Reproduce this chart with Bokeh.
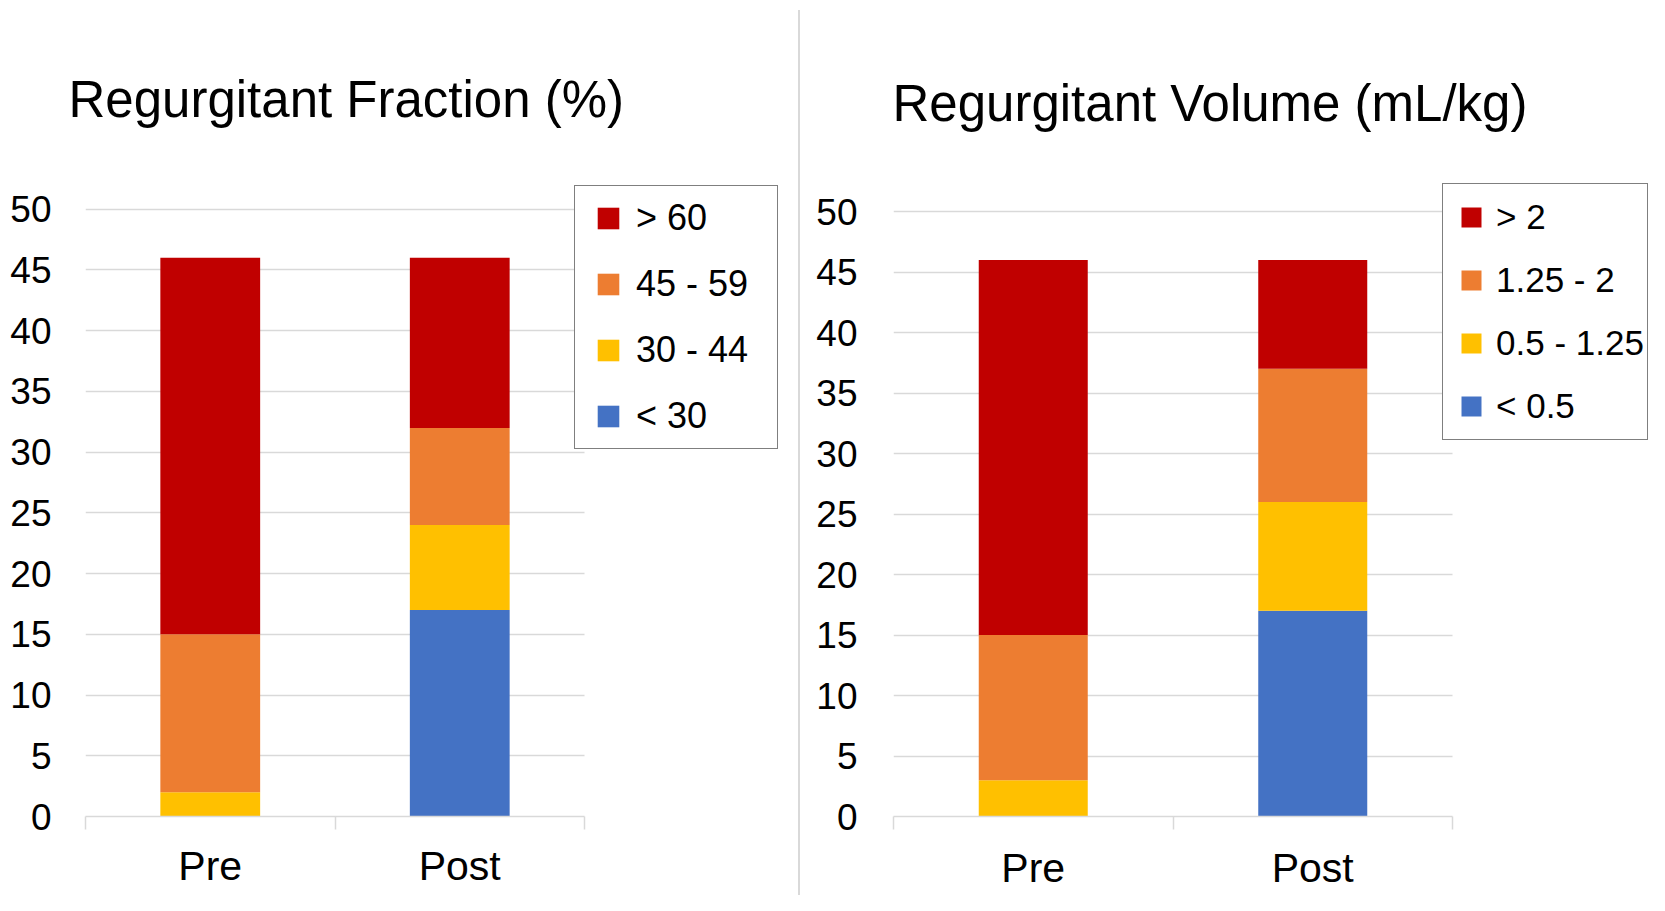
from bokeh.plotting import figure
from bokeh.models import ColumnDataSource, Range1d, FixedTicker, Legend, LegendItem, Div, Grid
from bokeh.layouts import row
from bokeh.embed import file_html
from bokeh.resources import INLINE

# ---- data ----
categories = ["Pre", "Post"]

rf_title = "Regurgitant Fraction (%)"
rf_labels = ["< 30", "30 - 44", "45 - 59", "> 60"]
rf_lt30 = [0, 17]
rf_30_44 = [2, 7]
rf_45_59 = [13, 8]
rf_gt60 = [31, 14]

rv_title = "Regurgitant Volume (mL/kg)"
rv_labels = ["< 0.5", "0.5 - 1.25", "1.25 - 2", "> 2"]
rv_lt05 = [0, 17]
rv_05_125 = [3, 9]
rv_125_2 = [12, 11]
rv_gt2 = [31, 9]

colors = ["#4472C4", "#FFC000", "#ED7D31", "#C00000"]
y_ticks = list(range(0, 51, 5))
y_max = 50

FONT = "Liberation Sans"
GRID = "#d9d9d9"
HAS_CROSS = "cross_bounds" in Grid.properties()


def make_panel(title, labels, series, lay):
    n = len(categories)
    centers = [i + 0.5 for i in range(n)]
    bounds = list(range(n + 1))
    data = {"x": centers}
    keys = []
    for i, s in enumerate(series):
        k = "s%d" % i
        data[k] = s
        keys.append(k)
    src = ColumnDataSource(data)

    W, H = lay["size"]
    fl, fr, ft, fb = lay["frame"]          # frame edges (local px)
    cat_right, y50 = lay["cat_right"], lay["y50"]  # where category area ends / where y=50 lies
    x_end = n * (fr - fl) / (cat_right - fl)
    y_end = y_max * (fb - ft) / (fb - y50)

    p = figure(width=W, height=H, output_backend="svg", toolbar_location=None,
               x_range=Range1d(0, x_end), y_range=Range1d(0, y_end),
               min_border_left=fl, min_border_right=W - fr, min_border_top=ft,
               min_border_bottom=H - fb, title=title)
    p.outline_line_color = None
    p.background_fill_color = "white"
    p.border_fill_color = "white"

    p.title.text_font = FONT
    p.title.text_font_size = "51px"
    p.title.text_font_style = "normal"
    p.title.text_color = "#000000"
    p.title.align = "left"
    p.title.offset = lay["title_offset"]
    p.title.standoff = lay["title_standoff"]

    p.xgrid.visible = False
    if HAS_CROSS:
        p.ygrid.ticker = FixedTicker(ticks=y_ticks)
        p.ygrid.grid_line_color = GRID
        p.ygrid.grid_line_width = 1.5
        p.ygrid.cross_bounds = (0, n)
    else:
        p.ygrid.visible = False
        p.segment(x0=[0] * len(y_ticks), x1=[n] * len(y_ticks), y0=y_ticks, y1=y_ticks,
                  line_color=GRID, line_width=1.5, level="underlay")

    p.vbar_stack(keys, x="x", width=lay["bar_w"], color=colors, line_color=None, source=src)

    # legend proxies (size 0 markers; the legend draws its own square swatch)
    proxies = []
    for k, c in zip(keys, colors):
        r = p.scatter(x="x", y=k, size=0, marker="square", fill_color=c, line_color=None, source=src)
        proxies.append(r)
    leg = lay["legend"]
    items = [LegendItem(label=lab, renderers=[r]) for lab, r in zip(labels, proxies)][::-1]
    legend = Legend(items=items, location=leg["loc"], glyph_width=leg["gw"], glyph_height=leg["gh"],
                    padding=leg["pad"], spacing=leg["sp"], label_standoff=0,
                    label_width=leg["lw"], label_text_font=FONT, label_text_font_size=leg["fs"],
                    label_text_color="#000000", border_line_color="#000000", border_line_width=1.5,
                    background_fill_color="white", background_fill_alpha=1.0, margin=0)
    p.add_layout(legend, "center")

    ya = p.yaxis[0]
    ya.ticker = FixedTicker(ticks=y_ticks)
    ya.axis_line_color = None
    ya.major_tick_line_color = None
    ya.major_tick_out = 0
    ya.major_tick_in = 0
    ya.minor_tick_line_color = None
    ya.minor_tick_out = 0
    ya.major_label_text_font = FONT
    ya.major_label_text_font_size = "37px"
    ya.major_label_text_color = "#000000"
    ya.major_label_standoff = lay["ystandoff"]

    xa = p.xaxis[0]
    xa.ticker = FixedTicker(ticks=centers, minor_ticks=bounds)
    xa.bounds = (0, n)
    xa.major_label_overrides = {c: cat for c, cat in zip(centers, categories)}
    xa.major_tick_line_color = None
    xa.major_tick_out = 0
    xa.major_tick_in = 0
    xa.minor_tick_out = 13
    xa.minor_tick_in = 0
    xa.minor_tick_line_color = GRID
    xa.minor_tick_line_width = 1.5
    xa.axis_line_color = GRID
    xa.axis_line_width = 1.5
    xa.major_label_text_font = FONT
    xa.major_label_text_font_size = "41px"
    xa.major_label_text_color = "#000000"
    xa.major_label_standoff = lay["xstandoff"]
    return p


lay1 = dict(size=(798, 895), frame=(85, 790, 180, 821), cat_right=584, y50=209,
            bar_w=0.4, title_offset=-17, title_standoff=105, ystandoff=34, xstandoff=13,
            legend=dict(loc=(489, 367), gw=56, gh=54, pad=5, sp=12, lw=136, fs="36px"))
lay2 = dict(size=(849, 895), frame=(93, 849, 180, 816), cat_right=652, y50=211,
            bar_w=0.39, title_offset=-1, title_standoff=97, ystandoff=36, xstandoff=15,
            legend=dict(loc=(549, 376), gw=50, gh=60, pad=3, sp=3, lw=148, fs="35px"))

p1 = make_panel(rf_title, rf_labels, [rf_lt30, rf_30_44, rf_45_59, rf_gt60], lay1)
p2 = make_panel(rv_title, rv_labels, [rv_lt05, rv_05_125, rv_125_2, rv_gt2], lay2)

divider = Div(text="", width=2, height=885, margin=(10, 0, 0, 0),
              styles={"background-color": GRID})

layout = row(p1, divider, p2)
open("out.html", "w").write(file_html(layout, INLINE))
